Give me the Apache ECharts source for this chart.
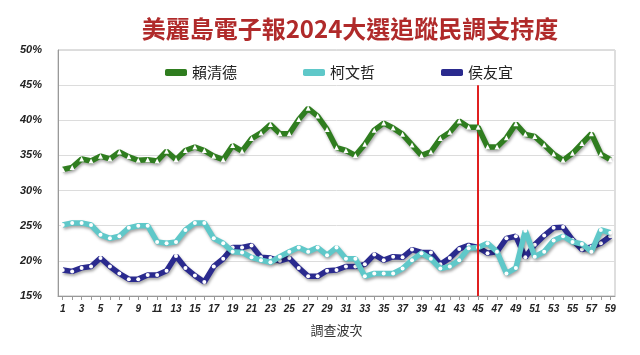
<!DOCTYPE html>
<html><head><meta charset="utf-8">
<script src="https://cdn.jsdelivr.net/npm/echarts@6/dist/echarts.min.js"></script>
<style>html,body{margin:0;padding:0;background:#fff}#c{width:640px;height:355px}</style>
</head><body><div id="c"></div>
<script>
const waves = ['1','2','3','4','5','6','7','8','9','10','11','12','13','14','15','16','17','18','19','20','21','22','23','24','25','26','27','28','29','30','31','32','33','34','35','36','37','38','39','40','41','42','43','44','45','46','47','48','49','50','51','52','53','54','55','56','57','58','59'];
const lai = [33.0,33.3,34.5,34.2,34.9,34.5,35.5,34.8,34.3,34.4,34.2,35.6,34.4,35.7,36.2,35.7,34.9,34.4,36.4,35.6,37.4,38.2,39.4,38.1,38.1,40.1,41.7,40.6,38.7,36.1,35.7,35.0,36.6,38.6,39.6,38.9,38.0,36.5,35.0,35.5,37.4,38.3,39.9,39.0,39.0,36.2,36.2,37.5,39.5,38.0,37.7,36.5,35.2,34.3,35.3,36.7,38.1,35.2,34.4];
const ko = [25.1,25.4,25.4,25.1,23.7,23.2,23.5,24.7,25.0,25.0,22.7,22.5,22.7,24.4,25.4,25.4,23.2,22.5,21.3,21.2,20.5,20.1,19.8,20.6,21.3,21.9,21.3,21.9,20.8,21.9,20.3,20.3,17.8,18.2,18.2,18.2,18.9,20.1,21.1,20.3,18.9,19.2,20.1,21.8,21.9,22.5,21.3,18.2,19.0,24.3,20.6,21.3,22.9,23.5,22.7,22.4,21.3,24.4,24.0];
const hou = [18.7,18.5,19.0,19.2,20.4,19.2,18.2,17.4,17.4,18.0,18.0,18.6,20.7,19.0,17.9,17.0,19.2,20.3,21.9,21.9,22.2,20.5,20.4,20.0,20.4,19.0,17.8,17.8,18.6,18.7,19.2,19.2,19.5,20.9,20.1,20.6,20.5,21.6,21.2,21.2,19.5,20.4,21.7,22.2,21.9,21.1,21.3,23.2,23.5,20.5,22.3,23.6,24.7,24.8,23.0,21.6,22.0,22.5,23.5];
const names = ['賴清德','柯文哲','侯友宜'];
const markWave = '45';
const markRange = [45, 15];
const yTicks = [15, 50, 5];

const colors = ['#2f7d1f', '#5fc8c9', '#2a2a8e'];
const symbols = ['triangle', 'circle', 'circle'];
const datas = [lai, ko, hou];

const chart = echarts.init(document.getElementById('c'), null, {renderer: 'canvas'});
const series = datas.map((d, i) => ({
  name: names[i], type: 'line', data: d,
  symbol: symbols[i], symbolSize: i === 0 ? 5 : 4,
  showSymbol: true,
  lineStyle: {color: colors[i], width: 5.5, shadowColor: 'rgba(0,0,0,0.35)', shadowBlur: 3, shadowOffsetX: 1, shadowOffsetY: 2},
  itemStyle: {color: '#ffffff', borderColor: '#ffffff', borderWidth: 0},
  emphasis: {disabled: true},
  z: 3 + (2 - i),
  markLine: i === 0 ? {
    silent: true, symbol: ['none', 'none'], label: {show: false},
    lineStyle: {color: '#e02020', width: 2, type: 'solid'},
    data: [[{coord: [markWave, markRange[0]]}, {coord: [markWave, markRange[1]]}]]
  } : undefined
}));

chart.setOption({
  animation: false,
  title: {
    text: '美麗島電子報2024大選追蹤民調支持度',
    left: 345, top: 12, textAlign: 'center',
    textStyle: {color: '#b02a2a', fontSize: 24, fontWeight: 'bold', fontFamily: '"Noto Sans CJK TC", sans-serif'}
  },
  legend: {
    data: names.map((n, i) => ({name: n, icon: 'roundRect', itemStyle: {color: colors[i], borderWidth: 0}})),
    top: 60, left: 160,
    itemWidth: 22, itemHeight: 7, itemGap: 66,
    textStyle: {fontSize: 15, color: '#222', fontFamily: '"Noto Sans CJK TC", sans-serif'}
  },
  grid: {left: 58, right: 25, top: 50, bottom: 59, show: true, borderColor: '#bdbdbd', borderWidth: 1},
  xAxis: {
    type: 'category', data: waves, boundaryGap: true,
    name: '調查波次', nameLocation: 'middle', nameGap: 28,
    nameTextStyle: {fontSize: 13, color: '#333', fontFamily: '"Noto Sans CJK TC", sans-serif'},
    axisLine: {lineStyle: {color: '#999', width: 1}},
    axisTick: {show: true, alignWithLabel: true, interval: 0, length: 4, lineStyle: {color: '#999'}},
    axisLabel: {interval: 1, fontSize: 10, fontStyle: 'italic', fontWeight: 'bold', color: '#222', margin: 8, fontFamily: 'Arial, "Liberation Sans", sans-serif'},
    splitLine: {show: false}
  },
  yAxis: {
    type: 'value', min: yTicks[0], max: yTicks[1], interval: yTicks[2],
    axisLine: {show: true, lineStyle: {color: '#999'}},
    axisTick: {show: false},
    axisLabel: {formatter: '{value}%', fontSize: 11, fontStyle: 'italic', fontWeight: 'bold', color: '#222', margin: 16, fontFamily: 'Arial, "Liberation Sans", sans-serif'},
    splitLine: {lineStyle: {color: '#dcdcdc', width: 1}}
  },
  series: series
});
</script></body></html>
